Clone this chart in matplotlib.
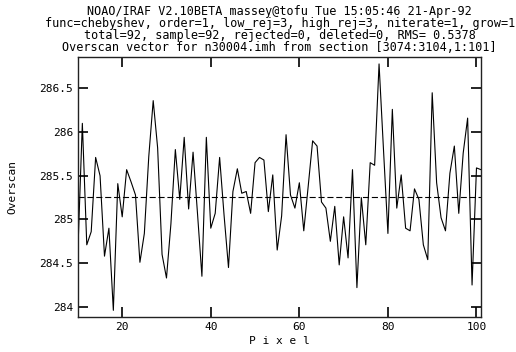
import matplotlib
matplotlib.use("Agg")
import matplotlib.pyplot as plt
import numpy as np

# overscan vector, pixels 10..101
pixel = np.arange(10, 102)
overscan = [
    284.65, 286.10, 284.71, 284.86, 285.71, 285.50, 284.58, 284.90, 283.96, 285.41,
    285.03, 285.57, 285.43, 285.28, 284.51, 284.84, 285.72, 286.36, 285.82, 284.60,
    284.33, 284.95, 285.80, 285.23, 285.94, 285.12, 285.77, 285.07, 284.35, 285.94,
    284.90, 285.07, 285.71, 285.05, 284.45, 285.32, 285.58, 285.30, 285.32, 285.07,
    285.65, 285.71, 285.68, 285.09, 285.51, 284.65, 285.04, 285.97, 285.28, 285.13,
    285.42, 284.87, 285.38, 285.90, 285.84, 285.20, 285.13, 284.75, 285.15, 284.48,
    285.03, 284.56, 285.57, 284.22, 285.25, 284.71, 285.65, 285.62, 286.78, 285.80,
    284.84, 286.26, 285.13, 285.51, 284.90, 284.87, 285.35, 285.23, 284.71, 284.54,
    286.45, 285.42, 285.02, 284.87, 285.53, 285.84, 285.07, 285.76, 286.16, 284.25,
    285.59, 285.57,
]
fit_level = 285.26

xticks = [20, 40, 60, 80, 100]
yticks = [284, 284.5, 285, 285.5, 286, 286.5]
ytick_labels = ["284", "284.5", "285", "285.5", "286", "286.5"]

title_lines = [
    "NOAO/IRAF V2.10BETA massey@tofu Tue 15:05:46 21-Apr-92",
    "func=chebyshev, order=1, low_rej=3, high_rej=3, niterate=1, grow=1",
    "total=92, sample=92, rejected=0, deleted=0, RMS= 0.5378",
    "Overscan vector for n30004.imh from section [3074:3104,1:101]",
]

mono = "DejaVu Sans Mono"

fig = plt.figure(figsize=(5.16, 3.52), dpi=100)
ax = fig.add_axes([0.151, 0.100, 0.781, 0.737])

ax.plot(pixel, overscan, color="black", lw=0.8)
ax.axhline(fit_level, color="black", lw=0.8, dashes=(5.5, 2.5))

ax.set_xlim(10, 101)
ax.set_ylim(283.886, 286.855)

ax.set_xticks(xticks)
ax.set_yticks(yticks)
ax.set_yticklabels(ytick_labels)
ax.tick_params(direction="in", length=7, width=1.2, top=True, right=True,
               labelsize=8)
for lab in ax.get_xticklabels() + ax.get_yticklabels():
    lab.set_family(mono)

for s in ax.spines.values():
    s.set_linewidth(1.0)
    s.set_color("#222222")

ax.set_xlabel("P i x e l", family=mono, fontsize=8, labelpad=3)
ax.set_ylabel("Overscan", family=mono, fontsize=8, labelpad=16)

# four-line IRAF header as one block
fig.text(0.542, 0.9176, "\n".join(title_lines), ha="center", va="center",
         multialignment="center", family=mono, fontsize=8.5, linespacing=0.9)

fig.savefig("out.png", dpi=100)
